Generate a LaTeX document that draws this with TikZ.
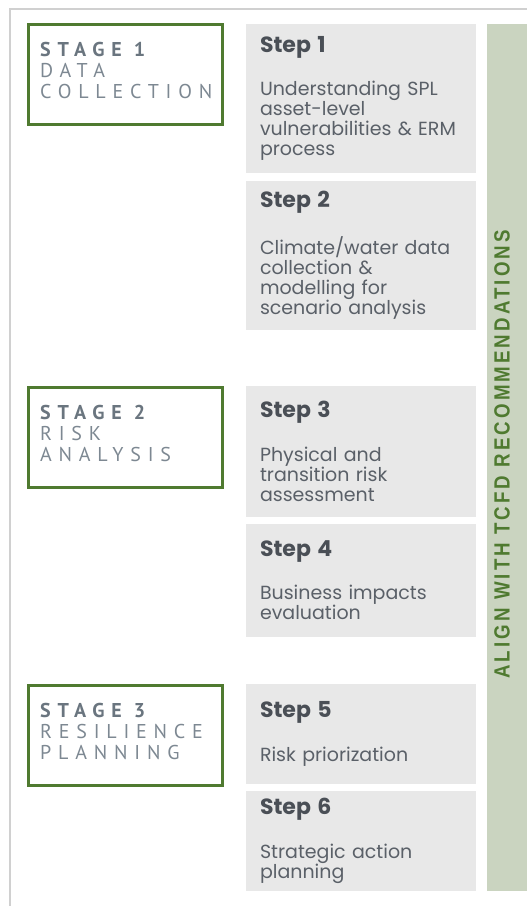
\documentclass[tikz,border=0pt]{standalone}
\usepackage{fontspec}
\setmainfont{Poppins}
\newfontfamily\stagefont[LetterSpace=34]{PT Sans}
\newfontfamily\bandfont[FakeStretch=0.85,LetterSpace=14]{Liberation Sans}
\usetikzlibrary{positioning}

\definecolor{stagegreen}{HTML}{4F7A30}
\definecolor{stepgray}{HTML}{E8E8E8}
\definecolor{bandgreen}{HTML}{CAD4C0}
\definecolor{inkgray}{HTML}{5A6068}
\definecolor{headgray}{HTML}{4A4F56}
\definecolor{stageink}{HTML}{6A757F}
\definecolor{stagelight}{HTML}{7D8892}
\definecolor{framegray}{HTML}{D0D0D0}

\newcommand{\stephead}[1]{{\fontsize{22}{20}\selectfont\bfseries\color{headgray}#1}}
\newcommand{\stagehead}[1]{{\bfseries\color{stageink}STAGE\hspace{12pt}#1}}

\begin{document}
\begin{tikzpicture}[x=1pt, y=-1pt,
        stagebox/.style={draw=stagegreen, line width=2.5pt, anchor=north west,
                         minimum width=194pt, minimum height=100pt},
        stagetext/.style={anchor=north west, inner sep=0pt, align=left, text=stagelight,
                          font=\stagefont\fontsize{20}{21}\selectfont},
        stepbox/.style={fill=stepgray, anchor=north west, minimum width=230pt,
                        text width=202pt, inner xsep=14pt, inner ysep=0pt, outer sep=0pt,
                        align=left, text=inkgray, font=\fontsize{19}{20}\selectfont},
        node distance=7pt
    ]
    \useasboundingbox (0,0) rectangle (527,906);

    % ---- page frame ----
    \draw[framegray, line width=1.2pt] (10,906) -- (10,9) -- (527,9);

    % ---- Stages ----
    \node[stagebox] (stage1) at (27,23) {};
    \node[stagetext] (stage1txt) at ([shift={(13pt,-19pt)}]stage1.north west)
        {\stagehead{1}\\DATA\\COLLECTION};
    \node[stagebox] (stage2) at (27,386) {};
    \node[stagetext] (stage2txt) at ([shift={(13pt,-19pt)}]stage2.north west)
        {\stagehead{2}\\RISK\\ANALYSIS};
    \node[stagebox] (stage3) at (27,684) {};
    \node[stagetext] (stage3txt) at ([shift={(13pt,-19pt)}]stage3.north west)
        {\stagehead{3}\\RESILIENCE\\PLANNING};

    % ---- Steps ----
    \node[stepbox, minimum height=149pt] (step1) at (246,24)
        {\stephead{Step 1}\\[22pt]Understanding SPL\\asset-level\\vulnerabilities \& ERM\\process};
    \node[stepbox, minimum height=149pt, below=8pt of step1] (step2)
        {\stephead{Step 2}\\[22pt]Climate/water data\\collection \&\\modelling for\\scenario analysis};
    \node[stepbox, minimum height=131pt] (step3) at (246,386)
        {\stephead{Step 3}\\[22pt]Physical and\\transition risk\\assessment};
    \node[stepbox, minimum height=113pt, below=of step3] (step4)
        {\stephead{Step 4}\\[22pt]Business impacts\\evaluation};
    \node[stepbox, minimum height=100pt] (step5) at (246,684)
        {\stephead{Step 5}\\[22pt]Risk priorization};
    \node[stepbox, minimum height=100pt, below=of step5] (step6)
        {\stephead{Step 6}\\[22pt]Strategic action\\planning};

    % ---- TCFD band ----
    \node[fill=bandgreen, anchor=north west, minimum width=40pt, minimum height=867pt,
          inner sep=0pt, outer sep=0pt] (band) at (487,24) {};
    \node[rotate=90, text=stagegreen, font=\bandfont\bfseries\fontsize{22}{22}\selectfont,
          xshift=3pt, yshift=5pt] (tcfd) at (band.center) {ALIGN WITH TCFD RECOMMENDATIONS};
\end{tikzpicture}
\end{document}
